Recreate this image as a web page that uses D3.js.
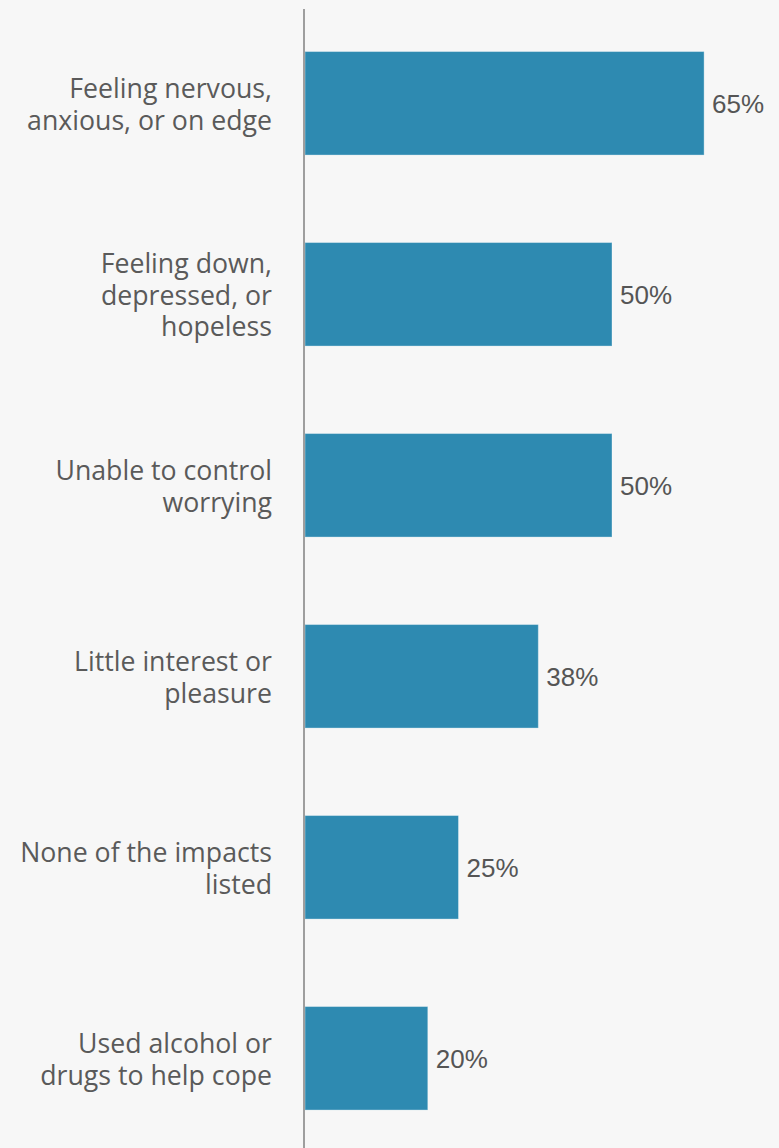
<!DOCTYPE html>
<html>
<head>
<meta charset="utf-8">
<script src="https://cdn.jsdelivr.net/npm/d3@7/dist/d3.min.js"></script>
<style>
  html, body { margin: 0; padding: 0; background: #f7f7f7; }
  svg { display: block; }
</style>
</head>
<body>
<div id="chart"></div>
<script>
// Reported impacts, share of respondents (%)
const categories = [
  "Feeling nervous, anxious, or on edge",
  "Feeling down, depressed, or hopeless",
  "Unable to control worrying",
  "Little interest or pleasure",
  "None of the impacts listed",
  "Used alcohol or drugs to help cope"
];
// How each category label wraps onto lines
const labelLines = [
  ["Feeling nervous,", "anxious, or on edge"],
  ["Feeling down,", "depressed, or", "hopeless"],
  ["Unable to control", "worrying"],
  ["Little interest or", "pleasure"],
  ["None of the impacts", "listed"],
  ["Used alcohol or", "drugs to help cope"]
];
const values = [65, 50, 50, 38, 25, 20];

const width = 779, height = 1148;
const barColor = "#2e8ab1";
const textColor = "#5a5a5a";

const svg = d3.select("#chart").append("svg")
  .attr("width", width)
  .attr("height", height);

svg.append("rect").attr("width", width).attr("height", height).attr("fill", "#f7f7f7");

const x = d3.scaleLinear().domain([0, 100]).range([305, 919]);
const y = d3.scaleBand()
  .domain(categories)
  .range([7.8, 1153.8])
  .paddingInner(0.458)
  .paddingOuter(0.229);

const data = categories.map((c, i) => ({ cat: c, value: values[i], lines: labelLines[i] }));

// Bars
svg.append("g").selectAll("rect")
  .data(data)
  .join("rect")
  .attr("x", x(0))
  .attr("y", d => y(d.cat))
  .attr("width", d => x(d.value) - x(0))
  .attr("height", y.bandwidth())
  .attr("fill", barColor)
  .attr("stroke", "rgba(255,255,255,0.35)")
  .attr("stroke-width", 1);

// Vertical baseline
svg.append("line")
  .attr("x1", 304).attr("x2", 304)
  .attr("y1", 9).attr("y2", height)
  .attr("stroke", "#9e9e9e")
  .attr("stroke-width", 2);

// Category labels (multi-line, right aligned)
const lineH = 31.5;
const cats = svg.append("g").selectAll("text")
  .data(data)
  .join("text")
  .attr("text-anchor", "end")
  .attr("font-family", "'Open Sans', sans-serif")
  .attr("font-size", 26.7)
  .attr("fill", textColor);

cats.each(function(d) {
  const cy = y(d.cat) + y.bandwidth() / 2;
  const n = d.lines.length;
  d3.select(this).selectAll("tspan")
    .data(d.lines)
    .join("tspan")
    .attr("x", 272)
    .attr("y", (l, i) => cy + 10.5 + (i - (n - 1) / 2) * lineH)
    .text(l => l);
});

// Value labels
svg.append("g").selectAll("text")
  .data(data)
  .join("text")
  .attr("x", d => x(d.value) + 8)
  .attr("y", d => y(d.cat) + y.bandwidth() / 2 + 9.5)
  .attr("font-family", "'Liberation Sans', Arial, sans-serif")
  .attr("font-size", 26)
  .attr("fill", "#555")
  .text(d => d.value + "%");
</script>
</body>
</html>
